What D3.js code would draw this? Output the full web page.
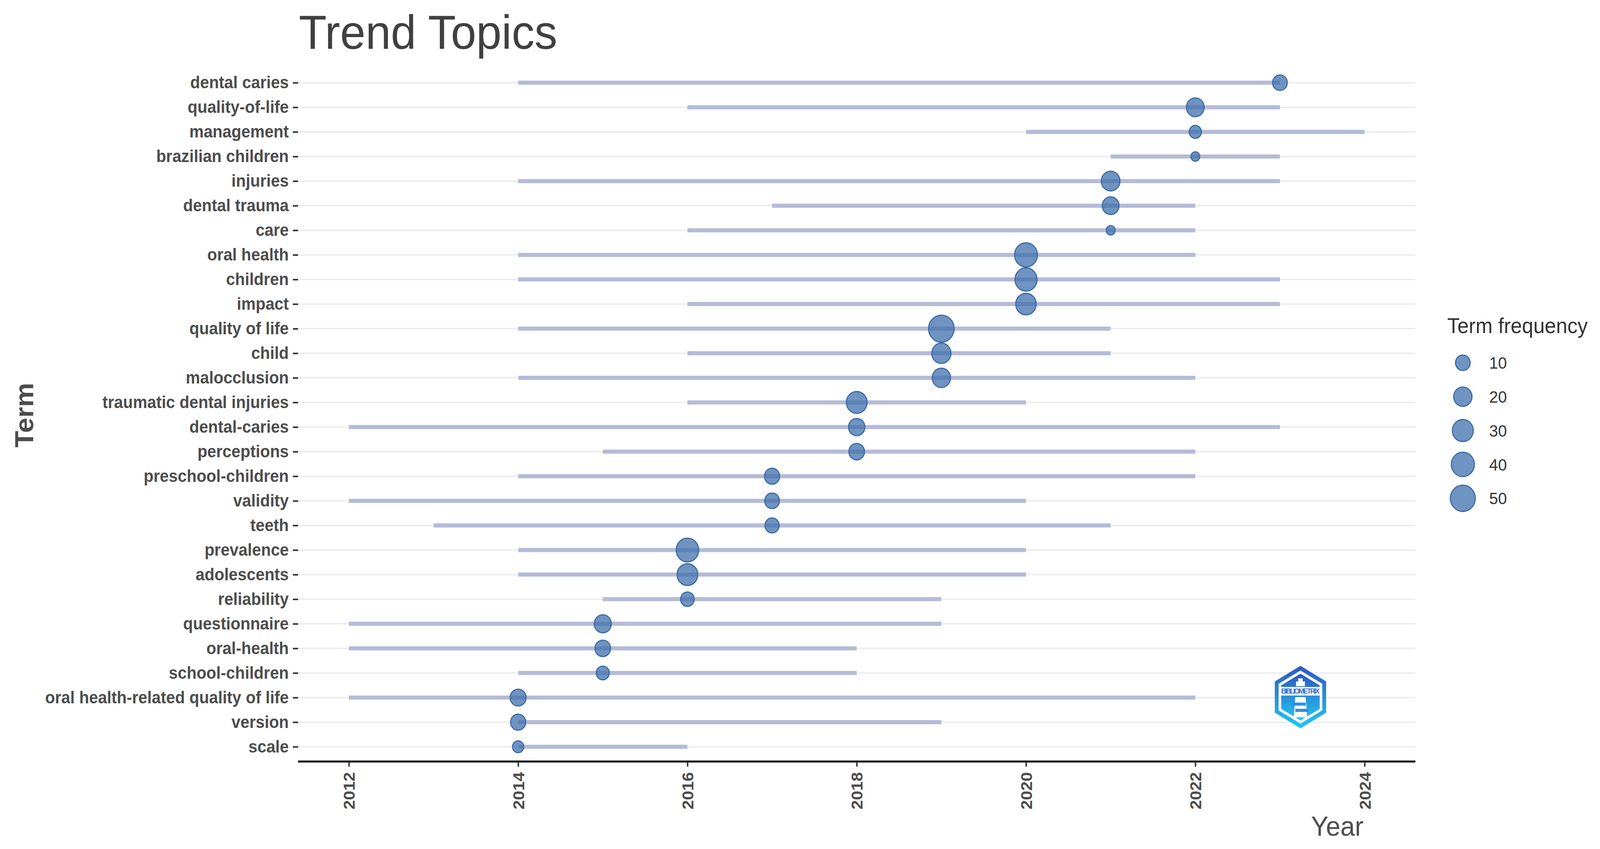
<!DOCTYPE html>
<html>
<head>
<meta charset="utf-8">
<script src="https://cdn.jsdelivr.net/npm/d3@7"></script>
<style>
  html, body { margin: 0; padding: 0; background: #fff; overflow: hidden; }
  svg { display: block; width: 100vw; height: 100vh; font-family: "Liberation Sans", Arial, sans-serif; }
</style>
</head>
<body>
<div class="chart"></div>
<script>
// terms, top to bottom
const terms = ["dental caries", "quality-of-life", "management", "brazilian children", "injuries",
  "dental trauma", "care", "oral health", "children", "impact", "quality of life", "child",
  "malocclusion", "traumatic dental injuries", "dental-caries", "perceptions", "preschool-children",
  "validity", "teeth", "prevalence", "adolescents", "reliability", "questionnaire", "oral-health",
  "school-children", "oral health-related quality of life", "version", "scale"];
const yearStart = [2014, 2016, 2020, 2021, 2014, 2017, 2016, 2014, 2014, 2016, 2014, 2016, 2014, 2016,
  2012, 2015, 2014, 2012, 2013, 2014, 2014, 2015, 2012, 2012, 2014, 2012, 2014, 2014];
const yearMedian = [2023, 2022, 2022, 2022, 2021, 2021, 2021, 2020, 2020, 2020, 2019, 2019, 2019, 2018,
  2018, 2018, 2017, 2017, 2017, 2016, 2016, 2016, 2015, 2015, 2015, 2014, 2014, 2014];
const yearEnd = [2023, 2023, 2024, 2023, 2023, 2022, 2022, 2022, 2023, 2023, 2021, 2021, 2022, 2020,
  2023, 2022, 2022, 2020, 2021, 2020, 2020, 2019, 2019, 2018, 2018, 2022, 2019, 2016];
const freq = [10, 18, 6, 4, 21, 15, 4, 39, 35, 28, 54, 23, 20, 29,
  14, 12, 11, 10, 9, 37, 29, 8, 16, 12, 7, 13, 11, 5];
const yearTicks = [2012, 2014, 2016, 2018, 2020, 2022, 2024];
const legendValues = [10, 20, 30, 40, 50];

const rows = terms.map((t, i) => ({ term: t, start: yearStart[i], mid: yearMedian[i], end: yearEnd[i], freq: freq[i] }));

const W = 4316, H = 2174;
const panel = { left: 804, right: 3818, top: 174, bottom: 1950 };
const textCol = "#4d4d4d";

const svg = d3.select(".chart").append("svg")
  .attr("viewBox", `0 0 ${W} ${H}`)
  .attr("preserveAspectRatio", "none");

const x = d3.scaleLinear().domain([2011.4, 2024.6]).range([panel.left, panel.right]);
const y = d3.scalePoint().domain(terms).range([panel.top, panel.bottom]).padding(0.6);

// ggplot-like area size scale: r = rmin + k*sqrt(f - fmin)
const fMin = 4;
const rOff = d3.scaleSqrt().domain([0, 50]).range([0, 22.6]);
const r = f => 12 + rOff(Math.max(0, f - fMin));

// horizontal grid
svg.append("g")
  .selectAll("line")
  .data(terms)
  .join("line")
  .attr("x1", panel.left).attr("x2", panel.right)
  .attr("y1", d => y(d)).attr("y2", d => y(d))
  .attr("stroke", "#ebebeb").attr("stroke-width", 3.5);

// year ranges
svg.append("g")
  .selectAll("line")
  .data(rows)
  .join("line")
  .attr("x1", d => x(d.start)).attr("x2", d => x(d.end))
  .attr("y1", d => y(d.term)).attr("y2", d => y(d.term))
  .attr("stroke", "#b5bbd7").attr("stroke-width", 10.5);

// median points
svg.append("g")
  .selectAll("circle")
  .data(rows)
  .join("circle")
  .attr("cx", d => x(d.mid)).attr("cy", d => y(d.term))
  .attr("r", d => r(d.freq))
  .attr("fill", "#3d6eab").attr("fill-opacity", 0.74)
  .attr("stroke", "#3d6aa6").attr("stroke-width", 3);

// y axis
const yAxis = svg.append("g")
  .attr("transform", `translate(${panel.left},0)`)
  .call(d3.axisLeft(y).tickSize(14).tickPadding(11));
yAxis.select(".domain").remove();
yAxis.selectAll(".tick line").attr("stroke", "#333").attr("stroke-width", 4);
yAxis.selectAll(".tick text")
  .attr("fill", textCol).attr("font-size", 43.5).attr("font-weight", "bold")
  .attr("font-family", "Liberation Sans, Arial, sans-serif");

// x axis
const xAxis = svg.append("g")
  .attr("transform", `translate(0,${panel.bottom})`)
  .call(d3.axisBottom(x).tickValues(yearTicks).tickFormat(d3.format("d")).tickSize(13).tickSizeOuter(0));
xAxis.select(".domain").attr("stroke", "#000").attr("stroke-width", 5)
  .attr("d", `M${panel.left},0H${panel.right}`);
xAxis.selectAll(".tick line").attr("stroke", "#333").attr("stroke-width", 4);
xAxis.selectAll(".tick text")
  .attr("fill", textCol).attr("font-size", 43).attr("font-weight", "bold")
  .attr("font-family", "Liberation Sans, Arial, sans-serif")
  .attr("text-anchor", "end")
  .attr("transform", "translate(0,27) rotate(-90)")
  .attr("x", 0).attr("y", 0).attr("dy", "0.36em");

// titles
svg.append("text")
  .attr("x", 806).attr("y", 125)
  .attr("font-size", 123).attr("fill", "#404040")
  .text("Trend Topics");

svg.append("text")
  .attr("transform", "translate(90,1063) rotate(-90)")
  .attr("text-anchor", "middle")
  .attr("font-size", 70).attr("font-weight", "bold").attr("fill", textCol)
  .text("Term");

svg.append("text")
  .attr("x", 3678).attr("y", 2140)
  .attr("text-anchor", "end")
  .attr("font-size", 70).attr("fill", textCol)
  .text("Year");

// legend
const legend = svg.append("g");
legend.append("text")
  .attr("x", 3904).attr("y", 853)
  .attr("font-size", 55).attr("fill", "#333")
  .text("Term frequency");
const ly = d3.scalePoint().domain(legendValues).range([929, 1276]);
legend.selectAll("circle")
  .data(legendValues)
  .join("circle")
  .attr("cx", 3946).attr("cy", d => ly(d))
  .attr("r", d => r(d))
  .attr("fill", "#3d6eab").attr("fill-opacity", 0.74)
  .attr("stroke", "#3d6aa6").attr("stroke-width", 3);
legend.selectAll("text.lab")
  .data(legendValues)
  .join("text")
  .attr("class", "lab")
  .attr("x", 4017).attr("y", d => ly(d))
  .attr("dy", "0.36em")
  .attr("font-size", 43).attr("fill", "#333")
  .text(d => d);

// bibliometrix logo
const logo = svg.append("g").attr("transform", "translate(3508,1785)");
const defs = svg.append("defs");
const grad = defs.append("linearGradient").attr("id", "lg").attr("x1", 0).attr("y1", 0).attr("x2", 0).attr("y2", 1);
grad.append("stop").attr("offset", "0%").attr("stop-color", "#2f58c0");
grad.append("stop").attr("offset", "100%").attr("stop-color", "#22c8f2");
const hex = R => d3.range(6).map(i => {
  const a = Math.PI / 3 * i - Math.PI / 2;
  return [R * Math.cos(a), R * Math.sin(a)];
});
logo.append("polygon").attr("points", hex(80).join(" ")).attr("fill", "url(#lg)");
logo.append("polygon").attr("points", hex(68).join(" ")).attr("fill", "#fff");
logo.append("polygon").attr("points", hex(60).join(" ")).attr("fill", "url(#lg)");
logo.append("rect").attr("x", -56).attr("y", -26).attr("width", 112).attr("height", 22).attr("fill", "#fff");
logo.append("text").attr("x", 0).attr("y", -9).attr("text-anchor", "middle")
  .attr("font-size", 19).attr("font-weight", "bold").attr("fill", "#2f6fd0")
  .attr("textLength", 104).text("BIBLIOMETRIX");
logo.append("path")
  .attr("d", "M-6,-48 h12 v8 h6 v12 h-24 v-12 h6 z M-14,0 h28 l4,52 h-36 z")
  .attr("fill", "#fff");
logo.append("path")
  .attr("d", "M-22,14 h36 v8 h-36 z M-14,30 h36 v8 h-36 z")
  .attr("fill", "#2e8fe0");
</script>
</body>
</html>
